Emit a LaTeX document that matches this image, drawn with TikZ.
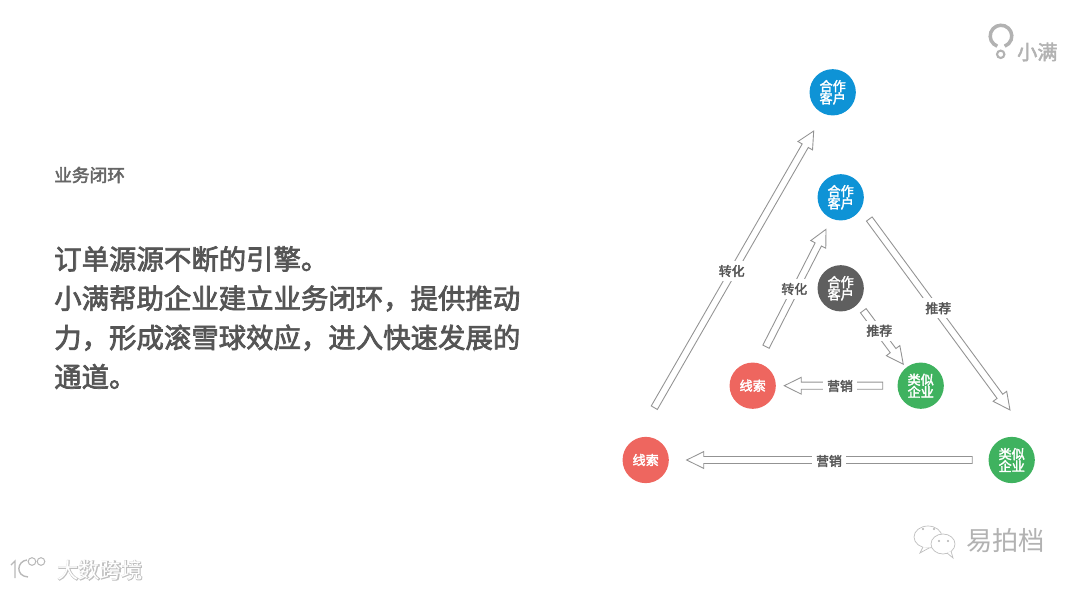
\documentclass[tikz,border=0pt]{standalone}
\usepackage{fontspec}
\setmainfont{Noto Sans CJK SC}
\newfontfamily\semifont[FakeBold=2.6]{Noto Sans CJK SC}
\newfontfamily\glowfont[FakeBold=5]{Noto Sans CJK SC}
\usetikzlibrary{calc}
\definecolor{clientblue}{HTML}{0E93D6}
\definecolor{clientgray}{HTML}{5F5F5F}
\definecolor{leadred}{HTML}{EE665F}
\definecolor{firmgreen}{HTML}{3FB25F}
\definecolor{textgray}{HTML}{555555}
\tikzset{
  stage/.style={circle, minimum size=39.5pt, inner sep=0pt, text=white, align=center,
    font=\fontsize{11.2}{10.5}\selectfont\semifont},
  edgelabel/.style={fill=white, inner sep=3.5pt, text=textgray, font=\fontsize{11}{12}\selectfont\semifont},
  hollowline/.style={draw=gray!85, fill=white, line width=0.75pt, line join=miter},
  mark text/.style={text=gray!60, inner sep=0pt},
  mark glow/.style={text=white, inner sep=0pt}
}
\newcommand{\hollowarrow}[2]{
  \draw[hollowline] let \p1=($(#2)-(#1)$), \n1={atan2(\y1,\x1)}, \n2={veclen(\x1,\y1)} in
    [shift={(#1)}, rotate=\n1]
    (0pt,-3pt) -- (\n2-14.5pt,-3pt) -- (\n2-14.5pt,-7.2pt) -- (\n2,0pt)
    -- (\n2-14.5pt,7.2pt) -- (\n2-14.5pt,3pt) -- (0pt,3pt) -- cycle;
}
\begin{document}
\begin{tikzpicture}[x=0.03cm, y=-0.03cm]
  \useasboundingbox (0,0) rectangle (1080,589);

  % left text
  \node[anchor=west, inner sep=0pt, text=textgray!90, font=\fontsize{15.1}{16}\selectfont\semifont] (title) at (54,175) {业务闭环};
  \node[anchor=north west, inner sep=0pt, text=textgray, align=left,
    font=\fontsize{23.4}{33.5}\selectfont\semifont] (body) at (54,246)
    {订单源源不断的引擎。\\小满帮助企业建立业务闭环^^^^ff0c提供推动\\力^^^^ff0c形成滚雪球效应^^^^ff0c进入快速发展的\\通道。};

  % stages
  \node[stage, fill=clientblue] (clientTop) at (832.7,92.3) {合作\\客户};
  \node[stage, fill=clientblue] (clientMid) at (840.7,197.3) {合作\\客户};
  \node[stage, fill=clientgray] (clientIn) at (840.7,288.3) {合作\\客户};
  \node[stage, fill=leadred] (leadIn) at (752.7,385.7) {线索};
  \node[stage, fill=firmgreen] (firmIn) at (920.7,385.7) {类似\\企业};
  \node[stage, fill=leadred] (leadOut) at (645.7,460) {线索};
  \node[stage, fill=firmgreen] (firmOut) at (1011.7,460) {类似\\企业};

  % arrow ends
  \coordinate (convOutTail) at ($(leadOut)+(8.6,-52.3)$);
  \coordinate (convOutTip) at ($(clientTop)+(-19,38.7)$);
  \coordinate (convInTail) at ($(leadIn)+(13.3,-39)$);
  \coordinate (convInTip) at ($(clientMid)+(-14.7,32)$);
  \coordinate (referOutTail) at ($(clientMid)+(28.6,21.7)$);
  \coordinate (referOutTip) at ($(firmOut)+(-1.7,-50)$);
  \coordinate (referInTail) at ($(clientIn)+(22.6,22.4)$);
  \coordinate (referInTip) at ($(firmIn)+(-17.4,-21.4)$);
  \coordinate (saleInTail) at ($(firmIn)+(-38,0)$);
  \coordinate (saleInTip) at ($(leadIn)+(31.6,0)$);
  \coordinate (saleOutTail) at ($(firmOut)+(-39.4,0)$);
  \coordinate (saleOutTip) at ($(leadOut)+(41,0)$);

  \hollowarrow{convOutTail}{convOutTip}
  \hollowarrow{convInTail}{convInTip}
  \hollowarrow{referOutTail}{referOutTip}
  \hollowarrow{referInTail}{referInTip}
  \hollowarrow{saleInTail}{saleInTip}
  \hollowarrow{saleOutTail}{saleOutTip}

  \node[edgelabel] (convOut) at (731.7,271) {转化};
  \node[edgelabel] (convIn) at (794.3,289) {转化};
  \node[edgelabel] (referOut) at (938.3,308.3) {推荐};
  \node[edgelabel] (referIn) at (879.3,330.7) {推荐};
  \node[edgelabel] (saleIn) at (840,386) {营销};
  \node[edgelabel] (saleOut) at (829,461) {营销};

  % logo top right
  \draw[gray!60, line width=3pt] (997.3,46.2) arc (110:430:10.8);
  \draw[gray!60, line width=1.8pt] (1000.7,54.3) circle (3.7);
  \node[anchor=west, inner sep=0pt, text=gray!60, font=\fontsize{17.2}{18}\selectfont\semifont] (brand) at (1017,52) {小满};

  % watermark right
  \draw[gray!50, fill=white, line width=0.6pt] (928,537) ellipse (14 and 11);
  \draw[gray!50, fill=white, line width=0.6pt] (923,547) -- (920,553) -- (929,548);
  \draw[gray!50, fill=white, line width=0.6pt] (943,544) ellipse (12 and 10);
  \draw[gray!50, fill=white, line width=0.6pt] (947,553) -- (953,558) -- (951,551);
  \foreach \dotx/\doty in {923/529,934/529,939/541,948/541}
    \fill[gray!60] (\dotx,\doty) circle (1.1);
  \node[mark glow, anchor=west, font=\fontsize{22.4}{24}\selectfont] (wechatGlow) at (966.7,542) {易拍档};
  \node[mark text, anchor=west, font=\fontsize{22.4}{24}\selectfont] (wechat) at (966,541) {易拍档};

  % watermark left
  \draw[gray!55, line width=1.2pt] (11,565) -- (15,561) -- (15,578);
  \draw[gray!55, line width=1.2pt] (27,560) .. controls (17,561) and (15,576) .. (28,577);
  \draw[gray!55, line width=0.9pt] (32,561.5) circle (3.8);
  \draw[gray!55, line width=0.9pt] (41,561.5) circle (3.8);
  \node[mark text, anchor=west, font=\fontsize{18.2}{20}\selectfont\glowfont, text=gray!50] (siteShade) at (57.3,570.3) {大数跨境};
  \node[mark glow, anchor=west, font=\fontsize{18.2}{20}\selectfont] (site) at (57,570) {大数跨境};
\end{tikzpicture}
\end{document}
